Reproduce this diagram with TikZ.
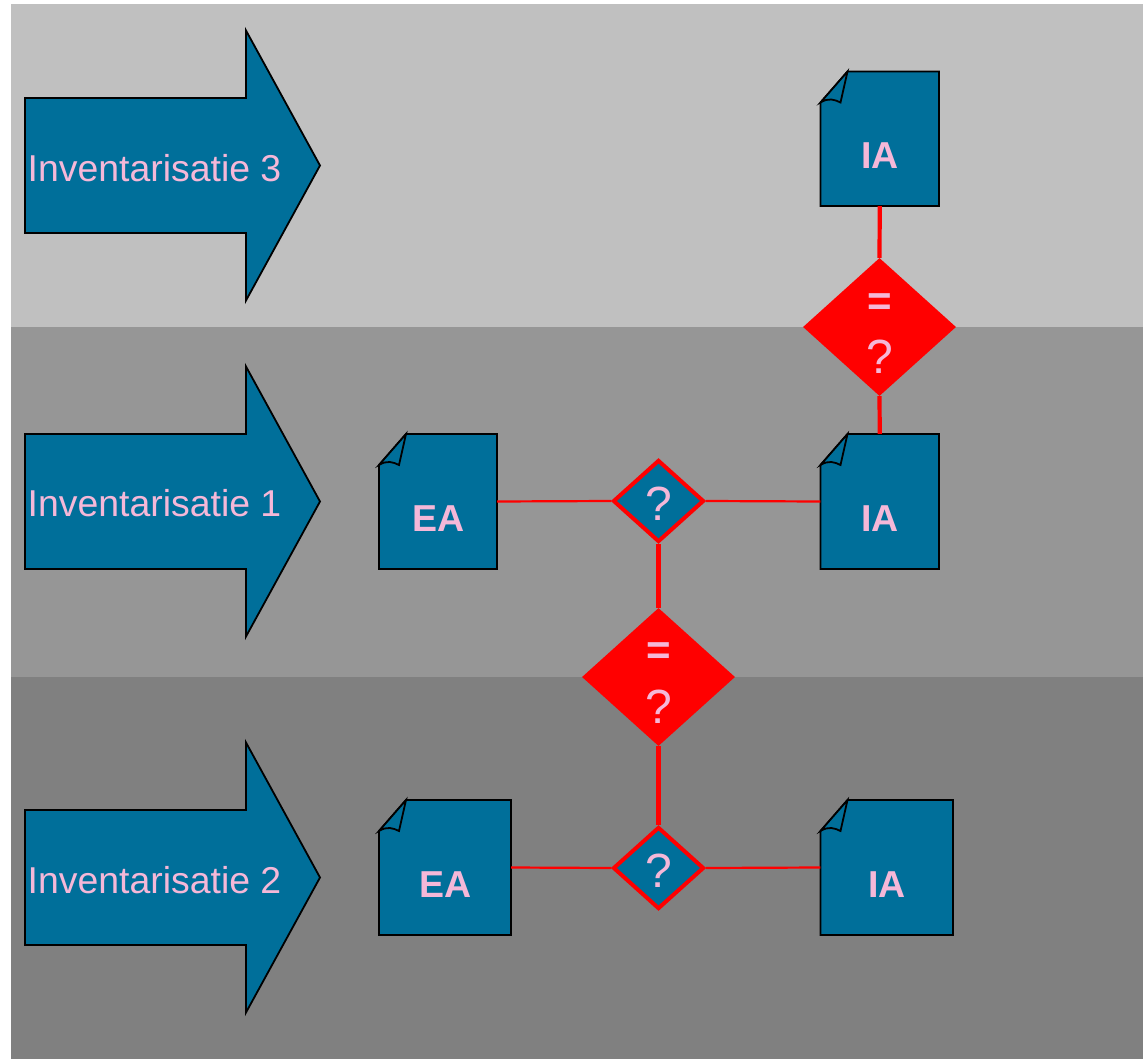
\documentclass[tikz,border=0pt]{standalone}
\usepackage{fontspec}
\setmainfont{Liberation Sans}
\usepackage{xcolor}
\usetikzlibrary{
		calc,
		positioning,
		shapes.geometric
	}
\definecolor{sheetblue}{RGB}{0,111,154}
\definecolor{labelpink}{RGB}{245,184,216}
\definecolor{bandlight}{RGB}{192,192,192}
\definecolor{bandmid}{RGB}{150,150,150}
\definecolor{banddark}{RGB}{128,128,128}
\tikzset{
		x=1pt,
		y=-1pt,
		outlined/.style={draw=black, line width=1.8pt, fill=sheetblue, line join=miter},
		sheetbox/.style={rectangle, draw=none, inner sep=0pt},
		sheetlabel/.style={inner sep=0pt, text=labelpink, font=\fontsize{37.5}{40}\selectfont\bfseries},
		arrowlabel/.style={anchor=west, inner sep=0pt, text=labelpink, font=\fontsize{37.4}{40}\selectfont},
		asklabel/.style={inner sep=0pt, text=labelpink, font=\fontsize{48}{52}\selectfont},
		equallabel/.style={inner sep=0pt, text=labelpink, font=\fontsize{42}{46}\selectfont\bfseries},
		bigcheck/.style={diamond, fill=red, draw=none, inner sep=0pt, aspect=1.1, minimum width=153pt, minimum height=138pt},
		smallcheck/.style={diamond, fill=sheetblue, draw=red, line width=4pt, inner sep=0pt, aspect=1.1, minimum width=91pt, minimum height=82pt},
		thinlink/.style={draw=red, line width=2.2pt},
		thicklink/.style={draw=red, line width=4.2pt}
	}
% left edge, top edge, right edge, bottom edge
\newcommand{\sheetshape}[4]{
		\draw[outlined] (#1+27,#2) -- (#3,#2) -- (#3,#4) -- (#1,#4) -- (#1,#2+31) -- cycle;
		\draw[outlined] (#1,#2+31) .. controls (#1+8,#2+26) and (#1+14,#2+28) .. (#1+20,#2+31) -- (#1+27,#2) -- cycle;
	}
% middle of the arrow
\newcommand{\inventarrow}[1]{
		\draw[outlined] (25,#1-67.5) -- (246,#1-67.5) -- (246,#1-135) -- (320,#1) -- (246,#1+135) -- (246,#1+67.5) -- (25,#1+67.5) -- cycle;
	}

\begin{document}
\begin{tikzpicture}
		\useasboundingbox (0,0) rectangle (1143,1059);
		\fill[bandlight] (11,4) rectangle (1143,327);
		\fill[bandmid] (11,327) rectangle (1143,677);
		\fill[banddark] (11,677) rectangle (1143,1059);

		\inventarrow{165.5}
		\inventarrow{501.5}
		\inventarrow{877.5}
		\node[arrowlabel] (inventory3) at (27.5,168) {Inventarisatie 3};
		\node[arrowlabel] (inventory1) at (27.5,503) {Inventarisatie 1};
		\node[arrowlabel] (inventory2) at (27.5,880) {Inventarisatie 2};

		\sheetshape{820.5}{71.5}{939}{206}
		\sheetshape{379}{434}{497}{569}
		\sheetshape{820.5}{434}{939}{569}
		\sheetshape{379}{800}{511}{935}
		\sheetshape{820.5}{800}{953}{935}
		\node[sheetbox, minimum width=118.5pt, minimum height=135pt] (iaTop) at (879.75,138.5) {};
		\node[sheetbox, minimum width=118pt, minimum height=135pt] (eaMid) at (438,501.5) {};
		\node[sheetbox, minimum width=118.5pt, minimum height=135pt] (iaMid) at (879.75,501.5) {};
		\node[sheetbox, minimum width=132pt, minimum height=135pt] (eaLow) at (445,867.5) {};
		\node[sheetbox, minimum width=132.5pt, minimum height=135pt] (iaLow) at (886.75,867.5) {};
		\node[sheetlabel] (iaTopText) at (880,155.5) {IA};
		\node[sheetlabel] (eaMidText) at (438.5,518.5) {EA};
		\node[sheetlabel] (iaMidText) at (880,518.5) {IA};
		\node[sheetlabel] (eaLowText) at (445.5,884.5) {EA};
		\node[sheetlabel] (iaLowText) at (887,884.5) {IA};

		\node[bigcheck] (checkTop) at (879.5,327) {};
		\node[bigcheck] (checkLow) at (658.5,677) {};
		\node[smallcheck] (askMid) at (658.5,501) {};
		\node[smallcheck] (askLow) at (658.5,868) {};
		\node[equallabel] (checkTopEq) at (879.5,305) {=};
		\node[asklabel] (checkTopAsk) at (879.5,356.5) {?};
		\node[equallabel] (checkLowEq) at (658.5,654) {=};
		\node[asklabel] (checkLowAsk) at (658.5,706.5) {?};
		\node[asklabel] (askMidText) at (658.5,503.5) {?};
		\node[asklabel] (askLowText) at (658.5,870.5) {?};

		\draw[thicklink] (iaTop.south) -- (checkTop.north);
		\draw[thicklink] (checkTop.south) -- (iaMid.north);
		\draw[thinlink] (eaMid.east) -- (askMid.west);
		\draw[thinlink] (askMid.east) -- (iaMid.west);
		\draw[thicklink] (askMid.south) -- (checkLow.north);
		\draw[thicklink] (checkLow.south) -- (askLow.north);
		\draw[thinlink] (eaLow.east) -- (askLow.west);
		\draw[thinlink] (askLow.east) -- (iaLow.west);
	\end{tikzpicture}
\end{document}
